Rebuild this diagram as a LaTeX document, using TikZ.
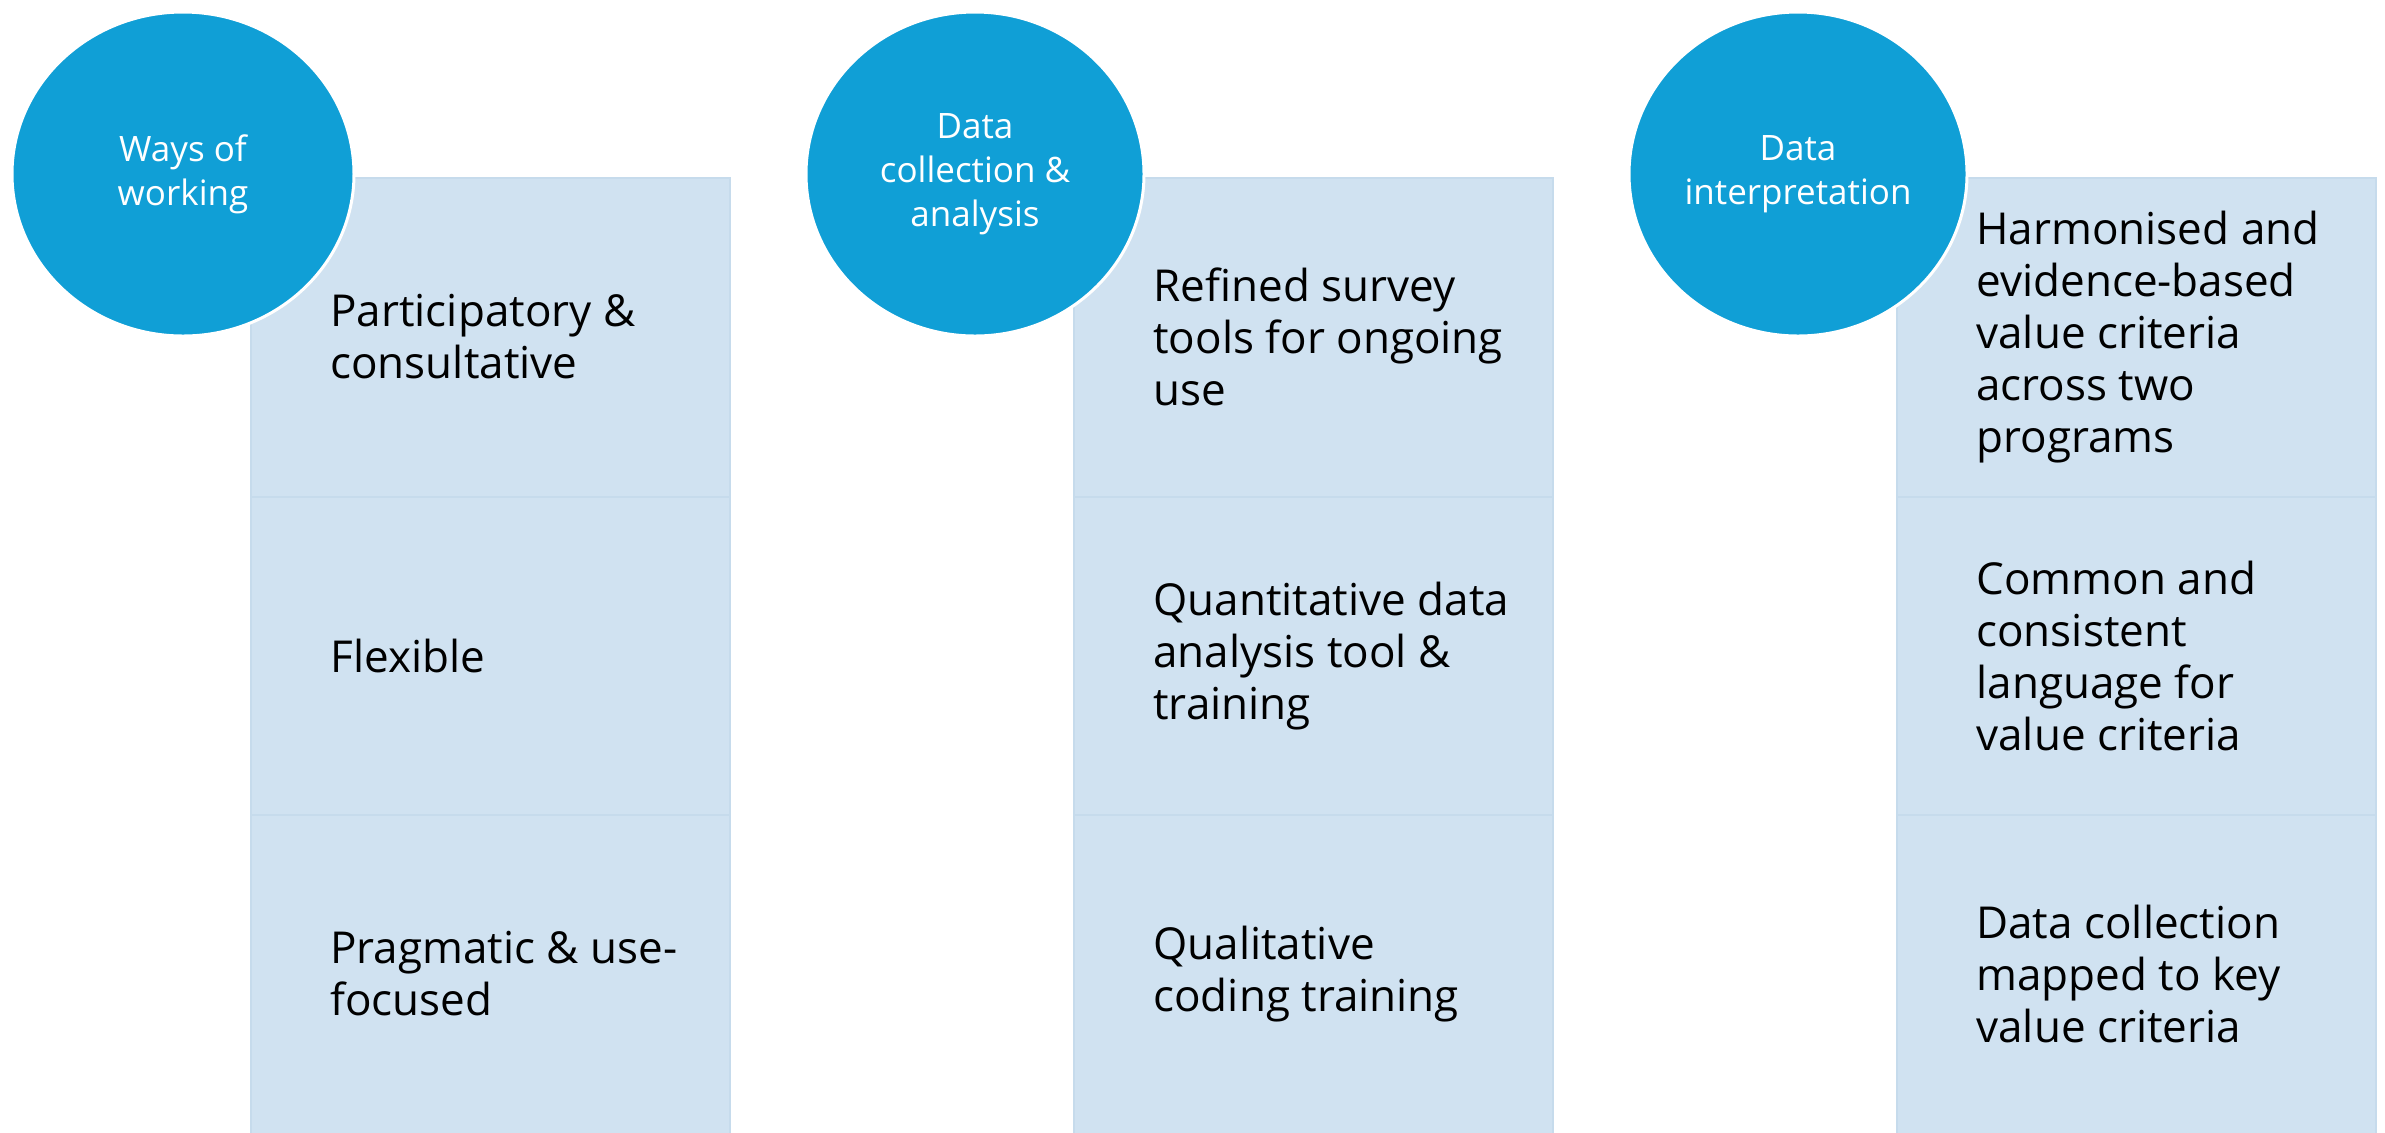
\documentclass[tikz,border=0pt]{standalone}
\usepackage{fontspec}
\setmainfont{Open Sans}
\usetikzlibrary{shapes.geometric}
\definecolor{circblue}{HTML}{109FD6}
\definecolor{cellfill}{HTML}{D0E2F1}
\definecolor{celledge}{HTML}{C6DBEC}
\begin{document}
\begin{tikzpicture}[x=0.5pt,y=-0.5pt,
  cell/.style={draw=celledge, line width=1pt, fill=cellfill},
  celltext/.style={anchor=west, align=left, inner sep=0pt, font=\fontsize{22}{26}\selectfont, text=black},
  head/.style={ellipse, fill=circblue, draw=white, line width=1.5pt, text=white, align=center, font=\fontsize{17.5}{22}\selectfont, inner sep=0pt}]
\useasboundingbox (0,0) rectangle (2385,1132);
% column 1
\foreach \L/\R in {251/730, 1074/1553, 1897/2376}{
  \draw[cell] (\L,178) rectangle (\R,497);
  \draw[cell] (\L,497) rectangle (\R,815);
  \draw[cell] (\L,815) rectangle (\R,1136);
}
\node[celltext] (t11) at (330,337) {Participatory \&\\consultative};
\node[celltext] (t12) at (330,656) {Flexible};
\node[celltext] (t13) at (330,974) {Pragmatic \& use-\\focused};
\node[celltext] (t21) at (1153,337) {Refined survey\\tools for ongoing\\use};
\node[celltext] (t22) at (1153,656) {Quantitative data\\analysis tool \&\\training};
\node[celltext] (t23) at (1153,974) {Qualitative\\coding training};
\node[celltext] (t31) at (1976,337) {Harmonised and\\evidence-based\\value criteria\\across two\\programs};
\node[celltext] (t32) at (1976,656) {Common and\\consistent\\language for\\value criteria};
\node[celltext] (t33) at (1976,974) {Data collection\\mapped to key\\value criteria};
% headers
\node[head, minimum width=171pt, minimum height=162pt] (h1) at (183,174) {Ways of\\working};
\node[head, minimum width=169pt, minimum height=162pt] (h2) at (975,174) {Data\\collection \&\\analysis};
\node[head, minimum width=169pt, minimum height=162pt] (h3) at (1798,174) {Data\\interpretation};
\end{tikzpicture}
\end{document}
